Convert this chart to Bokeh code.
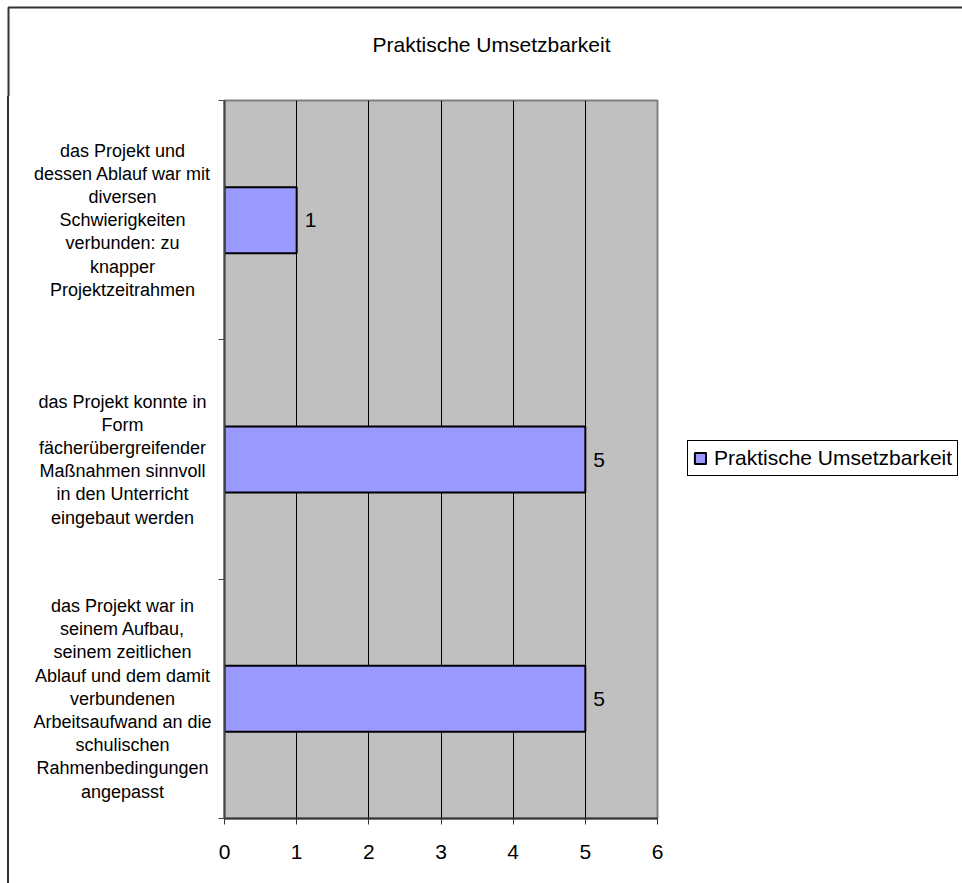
from bokeh.plotting import figure
from bokeh.models import (ColumnDataSource, Label, LabelSet, Legend, LegendItem,
                          FixedTicker, BoxAnnotation, Range1d)
from bokeh.layouts import column, row
from bokeh.embed import file_html
from bokeh.resources import INLINE
from bokeh.core.properties import value

# ---- data ----
categories = [
    "das Projekt und\ndessen Ablauf war mit\ndiversen\nSchwierigkeiten\nverbunden: zu\nknapper\nProjektzeitrahmen",
    "das Projekt konnte in\nForm\nfächerübergreifender\nMaßnahmen sinnvoll\nin den Unterricht\neingebaut werden",
    "das Projekt war in\nseinem Aufbau,\nseinem zeitlichen\nAblauf und dem damit\nverbundenen\nArbeitsaufwand an die\nschulischen\nRahmenbedingungen\nangepasst",
]
values = [1, 5, 5]
series_name = "Praktische Umsetzbarkeit"
title_text = "Praktische Umsetzbarkeit"
x_ticks = [0, 1, 2, 3, 4, 5, 6]

FONT = "Liberation Sans"
FRAME_COL = "#333333"
n = len(categories)
ypos = [n - i - 0.5 for i in range(n)]  # first category on top

src = ColumnDataSource(dict(y=ypos, value=values, label=[str(v) for v in values],
                            cat=categories))

# layout sizes (pixels)
TOP_H = 96
MB_TOP, FRAME_H, MB_BOT = 4, 718, 65
LEFT_W = 214
MB_LEFT, FRAME_W, MB_RIGHT = 10, 433, 305

y_range = Range1d(0, n)

# ---- top strip: title + outer frame ----
top = figure(width=962, height=TOP_H, x_range=Range1d(0, 962), y_range=Range1d(TOP_H, 0),
             min_border=0, x_axis_location=None, y_axis_location=None, title=None,
             output_backend="svg", toolbar_location=None,
             background_fill_color="white", border_fill_color="white",
             outline_line_color=None)
top.grid.grid_line_color = None
top.add_layout(Label(x=491, y=44, text=title_text, text_align="center",
                     text_baseline="middle", text_font=FONT, text_font_size="21px",
                     text_color="black"))
top.add_layout(BoxAnnotation(left=8, right=2000, top=7, bottom=2000,
                             fill_alpha=0, line_color=FRAME_COL, line_alpha=1,
                             line_width=2))

# ---- left strip: category labels (frame aligned with the chart frame) ----
left = figure(width=LEFT_W, height=MB_TOP + FRAME_H + MB_BOT,
              x_range=Range1d(0, LEFT_W), y_range=y_range,
              min_border_left=0, min_border_right=0,
              min_border_top=MB_TOP, min_border_bottom=MB_BOT,
              x_axis_location=None, y_axis_location=None, title=None,
              output_backend="svg", toolbar_location=None,
              background_fill_alpha=0, border_fill_alpha=0,
              outline_line_color=None)
left.grid.grid_line_color = None
left.text(x=122, y="y", text="cat", source=src, text_align="center",
          text_baseline="middle", text_font=value(FONT), text_font_size="18px",
          text_color="black", text_line_height=1.16)
# outer frame's left edge, drawn behind the transparent canvas
left.styles = {"background": "linear-gradient(to right, white 7px, #333333 7px, "
                             "#333333 9px, white 9px)"}

# ---- main chart ----
p = figure(frame_width=FRAME_W, frame_height=FRAME_H,
           min_border_left=MB_LEFT, min_border_right=MB_RIGHT,
           min_border_top=MB_TOP, min_border_bottom=MB_BOT, title=None,
           x_range=Range1d(0, 6), y_range=y_range,
           output_backend="svg", toolbar_location=None,
           background_fill_color="#C0C0C0", border_fill_color="white",
           outline_line_color="#808080", outline_line_width=2)

p.xgrid.ticker = FixedTicker(ticks=x_ticks[1:-1])
p.xgrid.grid_line_color = "black"
p.xgrid.grid_line_width = 1
p.ygrid.grid_line_color = None

r = p.hbar(y="y", left=0, right="value", height=0.276, source=src,
           fill_color="#9999FF", line_color="black", line_width=2)

p.add_layout(LabelSet(x="value", y="y", text="label", source=src, x_offset=8,
                      text_baseline="middle", text_align="left",
                      text_font=value(FONT), text_font_size="21px", text_color="black"))

xa = p.xaxis[0]
xa.ticker = FixedTicker(ticks=x_ticks)
xa.axis_line_color = FRAME_COL
xa.axis_line_width = 2
xa.major_tick_line_color = FRAME_COL
xa.major_tick_out = 6
xa.major_tick_in = 0
xa.minor_tick_line_color = None
xa.major_label_text_font = FONT
xa.major_label_text_font_size = "21px"
xa.major_label_text_color = "black"
xa.major_label_standoff = 20

ya = p.yaxis[0]
ya.ticker = FixedTicker(ticks=list(range(n + 1)))
ya.axis_line_color = "#444444"
ya.axis_line_width = 2
ya.major_tick_line_color = "#444444"
ya.major_tick_out = 6
ya.major_tick_in = 0
ya.major_label_standoff = 0
ya.minor_tick_line_color = None
ya.major_label_overrides = {i: "" for i in range(n + 1)}

legend = Legend(items=[LegendItem(label=series_name, renderers=[r])],
                location=(30, 342), orientation="vertical",
                border_line_color="black", border_line_width=1, border_line_alpha=1,
                background_fill_color="white", background_fill_alpha=1,
                label_text_font=FONT, label_text_font_size="21px",
                label_text_color="black",
                glyph_width=14, glyph_height=14, label_standoff=7,
                padding=5, margin=0, label_height=21)
p.add_layout(legend, "right")

layout = column(top, row(left, p))
open("out.html", "w").write(file_html(layout, INLINE))
